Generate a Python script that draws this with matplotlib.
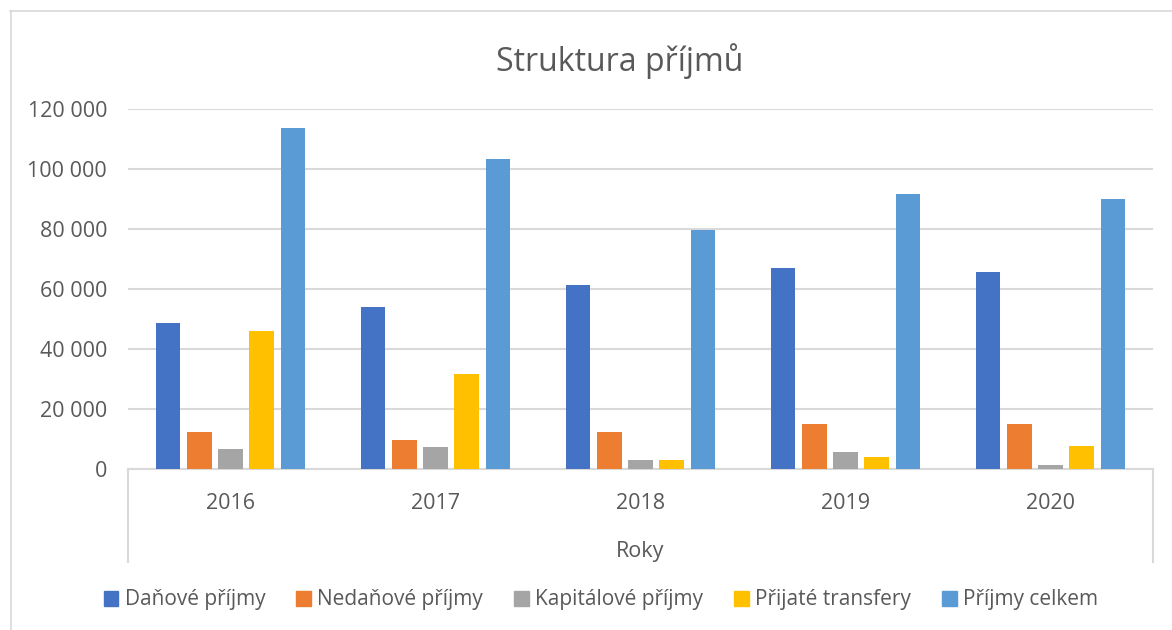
import matplotlib
matplotlib.use("Agg")
import matplotlib.pyplot as plt
from matplotlib.patches import Patch
from matplotlib.ticker import FuncFormatter
import numpy as np

# data
roky = ["2016", "2017", "2018", "2019", "2020"]
serie = ["Daňové příjmy", "Nedaňové příjmy", "Kapitálové příjmy", "Přijaté transfery", "Příjmy celkem"]
danove = [48800, 54100, 61200, 66900, 65800]
nedanove = [12300, 9800, 12300, 15100, 15100]
kapitalove = [6600, 7400, 3000, 5600, 1200]
transfery = [45900, 31800, 2900, 3900, 7600]
celkem = [113800, 103300, 79700, 91700, 90000]
barvy = ["#4472C4", "#ED7D31", "#A5A5A5", "#FFC000", "#5B9BD5"]

plt.rcParams['font.family'] = ['Open Sans', 'DejaVu Sans']
sedy_text = "#595959"
sedy_cara = "#D9D9D9"

W, H = 1172, 630
fig = plt.figure(figsize=(W / 100, H / 100), dpi=100)

# ramecek grafu (jen levy a horni okraj je videt)
fig.add_artist(plt.Line2D([10.5 / W, 10.5 / W], [0, 1 - 11 / H], color=sedy_cara, lw=1.2))
fig.add_artist(plt.Line2D([10 / W, 1], [1 - 11 / H, 1 - 11 / H], color=sedy_cara, lw=1.2))

x0, x1, y0, y1 = 128, 1153, 109, 469
ax = fig.add_axes([x0 / W, 1 - y1 / H, (x1 - x0) / W, (y1 - y0) / H])

x = np.arange(len(roky))
krok = 0.1525
sirka = 0.121
for i, (vals, c) in enumerate(zip([danove, nedanove, kapitalove, transfery, celkem], barvy)):
    ax.bar(x + (i - 2) * krok, vals, width=sirka, color=c, zorder=3)

ax.set_xlim(-0.5, len(roky) - 0.5)
ax.set_ylim(0, 120000)
ax.set_yticks(np.arange(0, 120001, 20000))
ax.yaxis.set_major_formatter(FuncFormatter(lambda v, p: f"{int(v):,}".replace(",", " ")))
ax.grid(axis="y", color=sedy_cara, lw=1.5, zorder=0)
ax.set_xticks(x)
ax.set_xticklabels(roky)
ax.tick_params(axis="both", length=0, labelcolor=sedy_text)
ax.tick_params(axis="x", pad=17, labelsize=15.5)
ax.tick_params(axis="y", pad=15, labelsize=15.5)
for s in ["top", "right", "left"]:
    ax.spines[s].set_visible(False)
ax.spines["bottom"].set_color(sedy_cara)
ax.spines["bottom"].set_linewidth(1.5)

# svisle oddelovace kategorii pod osou
dolu = -(562 - y1) / (y1 - y0)
for xx in [0, 1]:
    ax.plot([xx, xx], [0, dolu], transform=ax.transAxes, color=sedy_cara, lw=1.5, clip_on=False)

ax.set_xlabel("Roky", fontsize=15.5, color=sedy_text, labelpad=20)

fig.text(620 / W, 1 - 61 / H, "Struktura příjmů", ha="center", va="center", fontsize=23, color=sedy_text)

handles = [Patch(color=c) for c in barvy]
fig.legend(handles, serie, loc="center", bbox_to_anchor=(601 / W, 1 - 600 / H), ncol=5,
           frameon=False, fontsize=15, labelcolor=sedy_text, handlelength=0.7, handleheight=0.7,
           handletextpad=0.3, columnspacing=1.5)

fig.savefig("out.png", dpi=100, facecolor="white")
